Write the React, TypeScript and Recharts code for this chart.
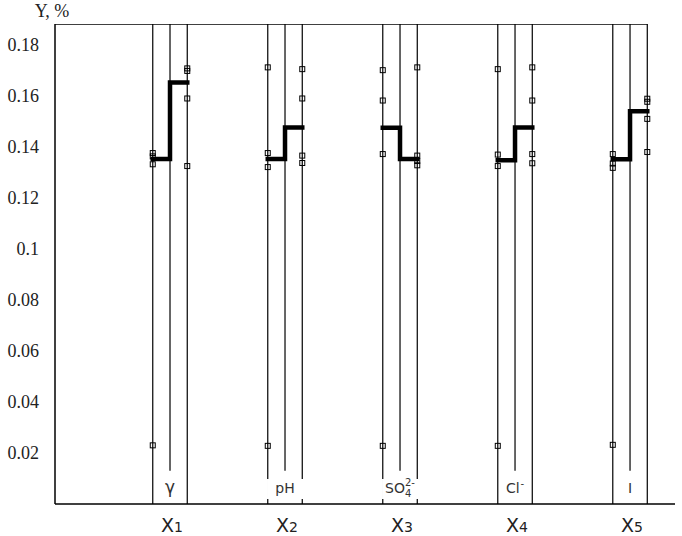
import { ComposedChart, Scatter, XAxis, YAxis } from 'recharts'

// subscripts under the X axis
const groupIndex = ['1', '2', '3', '4', '5']

// labels drawn inside each group, just above the axis
const innerLabels = [
  { base: 'γ' },
  { base: 'pH' },
  { base: 'SO', sub: '4', sup: '2-' },
  { base: 'Cl', sup: '-' },
  { base: 'I' },
]

// thick step line: level between left & middle lines, then middle & right lines
const leftLevel = [0.1353, 0.1353, 0.1475, 0.1348, 0.1352]
const rightLevel = [0.1653, 0.1476, 0.1353, 0.1476, 0.154]

// square markers on the left and right line of each group
const leftMarkers = [
  [0.1376, 0.1363, 0.1332, 0.023],
  [0.1712, 0.1376, 0.1321, 0.0228],
  [0.1701, 0.1582, 0.1372, 0.0228],
  [0.1705, 0.137, 0.1325, 0.0228],
  [0.1372, 0.1335, 0.1318, 0.0232],
]
const rightMarkers = [
  [0.1708, 0.1698, 0.159, 0.1325],
  [0.1705, 0.159, 0.1366, 0.1337],
  [0.1712, 0.1366, 0.1345, 0.1328],
  [0.1712, 0.1582, 0.1372, 0.1336],
  [0.1589, 0.1577, 0.151, 0.138],
]

const yTicks = [0.02, 0.04, 0.06, 0.08, 0.1, 0.12, 0.14, 0.16, 0.18]

const Y_MAX = 0.1882
const X_MAX = 5.391
const OUTER = 0.15
const MID_BOTTOM = 0.013

const BOXED = new Set(['pH', 'SO'])

const none = () => <g />

const markerData = groupIndex.flatMap((_, i) => [
  ...leftMarkers[i].map((v) => ({ x: i + 1 - OUTER, y: v })),
  ...rightMarkers[i].map((v) => ({ x: i + 1 + OUTER, y: v })),
])

const labelData = innerLabels.map((l, i) => ({ x: i + 1, y: 0, ...l }))

function Square(props: any) {
  const { cx, cy } = props
  return <rect x={cx - 2.5} y={cy - 2.5} width={5} height={5} fill="none" stroke="#000" strokeWidth={1} />
}

function InnerLabel(props: any) {
  const { cx, cy, payload } = props
  const font = { fontFamily: 'DejaVu Sans', fill: '#333' }
  const size = payload.base === 'γ' ? 17 : 14
  return (
    <g>
      {BOXED.has(payload.base) && <rect x={cx - 18} y={cy - 25} width={36} height={20} fill="#fff" />}
      <text x={cx} y={cy - 11} textAnchor="middle" fontSize={size} {...font}>
        {payload.base}
        {payload.sub && (
          <tspan fontSize={10} dy={4}>
            {payload.sub}
          </tspan>
        )}
        {payload.sup && (
          <tspan fontSize={10} dx={payload.sub ? -6.4 : 1} dy={payload.sub ? -11 : -6}>
            {payload.sup}
          </tspan>
        )}
      </text>
    </g>
  )
}

function GroupTick(props: any) {
  const { x, y, payload } = props
  const idx = groupIndex[payload.value - 1]
  return (
    <text x={x + 2} y={y + 28} textAnchor="middle" fontFamily="DejaVu Sans" fontSize={19} fill="#222">
      X
      <tspan fontSize={14}>{idx}</tspan>
    </text>
  )
}

export default function App() {
  const thin = { stroke: '#000', strokeWidth: 1.2 }

  return (
    <div style={{ position: 'absolute', left: 0, top: 0 }}>
      <ComposedChart width={682} height={536} margin={{ top: 24, right: 7, left: 8, bottom: 0 }}>
        <XAxis
          type="number"
          dataKey="x"
          domain={[0, X_MAX]}
          ticks={[1, 2, 3, 4, 5]}
          interval={0}
          height={32}
          tickLine={false}
          tickSize={0}
          tickMargin={0}
          axisLine={{ stroke: '#000', strokeWidth: 1.5 }}
          tick={<GroupTick />}
          allowDataOverflow
        />
        <YAxis
          type="number"
          dataKey="y"
          domain={[0, Y_MAX]}
          ticks={yTicks}
          interval={0}
          width={47}
          tickLine={false}
          tickSize={0}
          tickMargin={16}
          axisLine={{ stroke: '#000', strokeWidth: 1.5 }}
          tick={{ fontFamily: 'Liberation Serif', fontSize: 18, fill: '#222' }}
          allowDataOverflow
          label={{
            content: () => (
              <text x={52} y={17} textAnchor="middle" fontFamily="Liberation Serif" fontSize={18} fill="#222">
                Y, %
              </text>
            ),
          }}
        />

        {/* top frame line, ends at the last group's right line */}
        <Scatter
          data={[
            { x: 0, y: Y_MAX },
            { x: groupIndex.length + OUTER, y: Y_MAX },
          ]}
          line={{ stroke: '#000', strokeWidth: 1.5 }}
          shape={none}
          fill="#000"
          isAnimationActive={false}
        />

        {groupIndex.map((_, i) => {
          const c = i + 1
          return [
            <Scatter
              key={`l${i}`}
              data={[
                { x: c - OUTER, y: Y_MAX },
                { x: c - OUTER, y: 0 },
              ]}
              line={thin}
              shape={none}
              fill="#000"
              isAnimationActive={false}
            />,
            <Scatter
              key={`m${i}`}
              data={[
                { x: c, y: Y_MAX },
                { x: c, y: MID_BOTTOM },
              ]}
              line={thin}
              shape={none}
              fill="#000"
              isAnimationActive={false}
            />,
            <Scatter
              key={`r${i}`}
              data={[
                { x: c + OUTER, y: Y_MAX },
                { x: c + OUTER, y: 0 },
              ]}
              line={thin}
              shape={none}
              fill="#000"
              isAnimationActive={false}
            />,
            <Scatter
              key={`s${i}`}
              data={[
                { x: c - OUTER, y: leftLevel[i] },
                { x: c, y: leftLevel[i] },
                { x: c, y: rightLevel[i] },
                { x: c + OUTER, y: rightLevel[i] },
              ]}
              line={{ stroke: '#000', strokeWidth: 4.5, strokeLinejoin: 'miter', strokeLinecap: 'square' }}
              shape={none}
              fill="#000"
              isAnimationActive={false}
            />,
          ]
        })}

        <Scatter data={markerData} shape={<Square />} fill="#000" isAnimationActive={false} />
        <Scatter data={labelData} shape={<InnerLabel />} fill="#000" isAnimationActive={false} />
      </ComposedChart>
    </div>
  )
}
